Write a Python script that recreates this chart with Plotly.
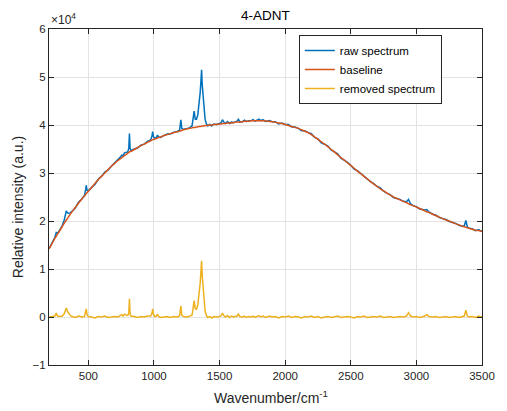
import plotly.graph_objects as go
import numpy as np

# Wavenumber grid (cm^-1)
wavenumber = [
    200, 225, 245, 255, 265, 275, 300, 315, 325, 332, 340, 350, 360, 375, 400, 425, 450, 470, 478, 484,
    490, 500, 525, 550, 575, 600, 625, 650, 675, 700, 725, 740, 755, 765, 775, 790, 800, 808, 813, 818,
    825, 850, 875, 900, 925, 950, 975, 985, 990, 996, 1005, 1018, 1027, 1035, 1050, 1075, 1100, 1125, 1150, 1175,
    1195, 1205, 1212, 1225, 1250, 1275, 1290, 1299, 1306, 1315, 1324, 1334, 1344, 1352, 1358, 1363, 1368, 1375, 1382, 1390,
    1400, 1410, 1425, 1440, 1455, 1475, 1500, 1512, 1522, 1532, 1545, 1560, 1575, 1590, 1605, 1620, 1633, 1643, 1655, 1675,
    1690, 1705, 1720, 1740, 1755, 1770, 1785, 1800, 1815, 1830, 1850, 1865, 1880, 1900, 1925, 1950, 1975, 2000, 2025, 2050,
    2075, 2100, 2125, 2150, 2175, 2200, 2225, 2250, 2275, 2300, 2325, 2350, 2375, 2400, 2425, 2450, 2475, 2500, 2525, 2550,
    2575, 2600, 2625, 2650, 2675, 2700, 2725, 2750, 2775, 2800, 2825, 2850, 2875, 2900, 2925, 2940, 2955, 2975, 3000, 3025,
    3050, 3065, 3080, 3095, 3125, 3150, 3175, 3200, 3225, 3250, 3275, 3300, 3325, 3350, 3365, 3377, 3388, 3400, 3425, 3450,
    3475, 3490, 3500,
]

# Baseline (x10^4)
baseline = [
    1.42, 1.54, 1.64, 1.68, 1.73, 1.77, 1.88, 1.95, 1.99, 2.02, 2.05, 2.09, 2.13, 2.19, 2.28, 2.37, 2.46, 2.52, 2.55, 2.57,
    2.59, 2.62, 2.70, 2.78, 2.86, 2.93, 3.00, 3.07, 3.14, 3.20, 3.26, 3.29, 3.32, 3.34, 3.36, 3.39, 3.41, 3.43, 3.44, 3.45,
    3.45, 3.49, 3.53, 3.57, 3.60, 3.64, 3.67, 3.69, 3.69, 3.70, 3.71, 3.72, 3.73, 3.74, 3.75, 3.78, 3.80, 3.82, 3.84, 3.86,
    3.87, 3.88, 3.89, 3.90, 3.92, 3.93, 3.94, 3.95, 3.95, 3.95, 3.96, 3.96, 3.97, 3.97, 3.97, 3.98, 3.98, 3.98, 3.98, 3.99,
    3.99, 3.99, 4.00, 4.00, 4.01, 4.01, 4.02, 4.02, 4.03, 4.03, 4.03, 4.04, 4.04, 4.04, 4.05, 4.06, 4.06, 4.06, 4.06, 4.07,
    4.08, 4.08, 4.08, 4.09, 4.09, 4.09, 4.09, 4.09, 4.09, 4.09, 4.085, 4.08, 4.075, 4.07, 4.06, 4.04, 4.03, 4.01, 3.99, 3.97,
    3.95, 3.93, 3.90, 3.87, 3.84, 3.80, 3.75, 3.70, 3.65, 3.60, 3.55, 3.49, 3.44, 3.38, 3.32, 3.27, 3.21, 3.16, 3.10, 3.04,
    2.99, 2.93, 2.88, 2.82, 2.77, 2.72, 2.67, 2.63, 2.58, 2.54, 2.50, 2.47, 2.44, 2.41, 2.38, 2.36, 2.34, 2.32, 2.29, 2.26,
    2.23, 2.21, 2.19, 2.18, 2.14, 2.11, 2.08, 2.05, 2.02, 2.00, 1.97, 1.94, 1.92, 1.89, 1.88, 1.87, 1.86, 1.85, 1.83, 1.81,
    1.80, 1.79, 1.78,
]

# Removed (baseline-corrected) spectrum (x10^4)
removed = [
    0.00, 0.01, 0.02, 0.08, 0.02, 0.01, 0.02, 0.06, 0.14, 0.19, 0.12, 0.07, 0.04, 0.01, -0.01, 0.02, 0.00, 0.01, 0.08, 0.17,
    0.05, 0.01, 0.00, -0.02, 0.01, 0.00, 0.02, -0.01, 0.00, 0.01, 0.00, 0.03, 0.05, 0.02, 0.06, 0.04, 0.03, 0.08, 0.38, 0.06,
    0.02, 0.01, -0.01, 0.01, 0.00, 0.02, 0.02, 0.08, 0.17, 0.06, 0.01, 0.02, 0.06, 0.01, -0.01, 0.00, 0.01, -0.01, 0.01, 0.00,
    0.02, 0.23, 0.04, 0.01, 0.00, 0.02, 0.04, 0.20, 0.34, 0.17, 0.16, 0.25, 0.44, 0.70, 0.95, 1.17, 0.85, 0.55, 0.30, 0.12,
    0.03, -0.01, 0.01, -0.02, 0.01, 0.00, 0.01, 0.03, 0.08, 0.03, 0.00, 0.03, -0.01, 0.02, 0.00, 0.01, 0.02, 0.06, 0.01, 0.00,
    0.02, -0.01, 0.01, 0.00, 0.02, -0.01, 0.01, 0.03, 0.00, 0.02, -0.01, 0.01, 0.02, 0.00, 0.01, -0.02, 0.01, 0.00, 0.02, -0.01,
    0.01, 0.00, -0.02, 0.01, 0.00, 0.02, -0.01, 0.01, -0.02, 0.00, 0.01, -0.01, 0.00, 0.02, -0.01, 0.00, 0.01, 0.00, -0.02, 0.01,
    0.00, 0.02, -0.01, 0.00, 0.01, 0.00, 0.02, -0.01, 0.00, 0.01, -0.01, 0.00, 0.01, 0.00, 0.02, 0.09, 0.02, 0.00, 0.01, -0.01,
    0.01, 0.02, 0.05, 0.01, 0.00, 0.01, -0.01, 0.00, 0.01, -0.01, 0.00, 0.01, -0.01, 0.00, 0.02, 0.14, 0.02, 0.00, 0.01, -0.01,
    0.02, 0.00, 0.01,
]

# Raw spectrum = baseline + removed spectrum
raw = (np.array(baseline) + np.array(removed)).tolist()

y_tickvals = [-1, 0, 1, 2, 3, 4, 5, 6]
x_tickvals = [500, 1000, 1500, 2000, 2500, 3000, 3500]

FONT = "Liberation Sans, Arial, sans-serif"
AX = "#262626"

fig = go.Figure()
fig.add_trace(go.Scatter(x=wavenumber, y=raw, mode="lines", name="raw spectrum",
                         line=dict(color="#0072BD", width=1.5)))
fig.add_trace(go.Scatter(x=wavenumber, y=baseline, mode="lines", name="baseline",
                         line=dict(color="#D95319", width=1.5, shape="spline")))
fig.add_trace(go.Scatter(x=wavenumber, y=removed, mode="lines", name="removed spectrum",
                         line=dict(color="#EDB120", width=1.5)))

axis_common = dict(
    showline=True, linecolor=AX, linewidth=1, mirror="allticks",
    ticks="inside", ticklen=5, tickcolor=AX, tickwidth=1,
    showgrid=True, gridcolor="#e3e3e3", gridwidth=1, zeroline=False,
    tickfont=dict(family=FONT, size=11.5, color=AX),
)

# the page body adds an 8px margin; the figure is sized so the axes land where they do in the reference
fig.update_layout(
    width=499, height=403,
    margin=dict(l=41, r=23, t=21, b=46),
    paper_bgcolor="white", plot_bgcolor="white",
    font=dict(family=FONT, color=AX),
    title=dict(text="4-ADNT", x=0.5157, xanchor="center", y=0.9826, yanchor="middle",
               font=dict(family=FONT, size=13.5, color="#000000")),
    xaxis=dict(range=[200, 3500], tickvals=x_tickvals, **axis_common),
    yaxis=dict(range=[-1, 6], tickvals=y_tickvals, **axis_common),
    legend=dict(x=0.577, y=0.982, xanchor="left", yanchor="top",
                bgcolor="white", bordercolor=AX, borderwidth=1,
                font=dict(family=FONT, size=11.5, color="#000000"),
                tracegroupgap=0),
    showlegend=True,
    annotations=[
        dict(text="×10<sup>4</sup>", xref="paper", yref="paper", x=0.0, y=1.0,
             xanchor="left", yanchor="bottom", showarrow=False,
             font=dict(family=FONT, size=12, color=AX)),
        dict(text="Wavenumber/cm<sup>-1</sup>", xref="paper", yref="paper", x=0.513, y=-0.095,
             xanchor="center", yanchor="middle", showarrow=False,
             font=dict(family=FONT, size=14, color=AX)),
        dict(text="Relative intensity (a.u.)", xref="paper", yref="paper", x=-0.0713, y=0.47,
             xanchor="center", yanchor="middle", showarrow=False, textangle=-90,
             font=dict(family=FONT, size=14, color=AX)),
    ],
)

fig.write_html("out.html")
